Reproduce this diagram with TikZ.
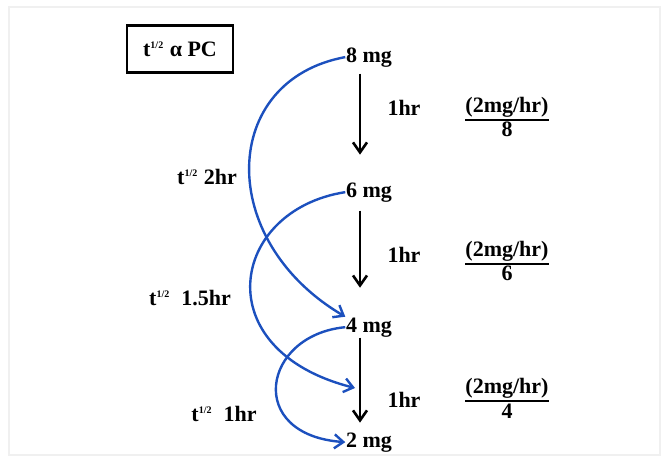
\documentclass[tikz,border=0pt]{standalone}
\usepackage{fontspec}
\setmainfont{Liberation Serif}
\usetikzlibrary{arrows.meta}
\definecolor{halfblue}{RGB}{28,80,190}

\begin{document}
\begin{tikzpicture}[x=0.5pt, y=-0.5pt, thick, font=\fontsize{11}{13}\selectfont\bfseries,
    dose/.style={inner sep=0pt, anchor=base},
    lbl/.style={inner sep=0pt},
    drop/.style={line width=1.3pt, -{Straight Barb[length=5pt,width=7pt]}},
    halflife/.style={draw=halfblue, line width=1.2pt, -{Straight Barb[length=4.5pt,width=7pt]}}]
    \useasboundingbox (0,0) rectangle (668,465);
    \draw[black!6, line width=0.6pt] (9,7) rectangle (660,455);

    \node (title) [draw, rectangle, line width=1.2pt, minimum width=53pt, minimum height=23.5pt] at (180,49) {t\textsuperscript{\tiny 1/2} α PC};

    % amounts left in the body
    \node (m8) [dose] at (369,62) {8 mg};
    \node (m6) [dose] at (369,197) {6 mg};
    \node (m4) [dose] at (369,332) {4 mg};
    \node (m2) [dose] at (369,447) {2 mg};
    \coordinate (c15) at (355,388);

    % one hour steps
    \draw[drop, shorten <=3pt, shorten >=13.5pt] ([xshift=-4.5pt]m8.south) -- ([xshift=-4.5pt]m6.north);
    \draw[drop, shorten <=4pt, shorten >=14.5pt] ([xshift=-4.5pt]m6.south) -- ([xshift=-4.5pt]m4.north);
    \draw[drop, shorten <=0pt, shorten >=4.5pt] ([xshift=-4.5pt]m4.south) -- ([xshift=-4.5pt]m2.north);

    \node (h1) [lbl] at (404,108) {1hr};
    \node (h2) [lbl] at (404,255) {1hr};
    \node (h3) [lbl] at (404,400) {1hr};

    \node (r8) [lbl] at (507,117) {${\textbf{(2mg/hr)} \above 0.9pt \textbf{8}}$};
    \node (r6) [lbl] at (507,261) {${\textbf{(2mg/hr)} \above 0.9pt \textbf{6}}$};
    \node (r4) [lbl] at (507,398) {${\textbf{(2mg/hr)} \above 0.9pt \textbf{4}}$};

    % half lives
    \node (t2) [lbl] at (207,177) {t\textsuperscript{\tiny 1/2} 2hr};
    \node (t15) [lbl] at (190,298) {t\textsuperscript{\tiny 1/2}\ \ 1.5hr};
    \node (t1) [lbl] at (224,414) {t\textsuperscript{\tiny 1/2}\ \ 1hr};

    \draw[halflife] (m8.west) .. controls (220,80) and (215,240) .. (m4.north west);
    \draw[halflife] (m6.west) .. controls (230,210) and (205,350) .. (c15);
    \draw[halflife] (m4.west) .. controls (262,335) and (245,435) .. (m2.west);
\end{tikzpicture}
\end{document}
